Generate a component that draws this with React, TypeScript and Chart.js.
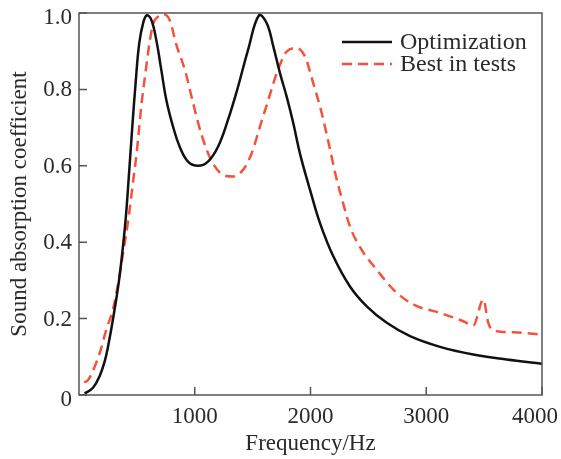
import React, { useEffect, useRef } from 'react';
import { Chart, registerables } from 'chart.js';

Chart.register(...registerables);

// Optimization curve (frequency in Hz, absorption coefficient)
const optFreq = [49, 121, 179, 222, 253, 300, 350, 400, 430, 460, 490, 520, 555, 587, 625, 668, 711, 754, 812, 870, 942, 1028, 1114, 1201, 1287, 1374, 1460, 1555, 1622, 1679, 1737, 1794, 1851, 1909, 1996, 2082, 2197, 2341, 2486, 2659, 2860, 3119, 3406, 3695, 4000];
const optAbs = [0.004, 0.019, 0.05, 0.088, 0.13, 0.21, 0.31, 0.45, 0.57, 0.7, 0.82, 0.92, 0.975, 0.994, 0.982, 0.929, 0.851, 0.773, 0.703, 0.65, 0.611, 0.6, 0.611, 0.65, 0.72, 0.807, 0.903, 0.994, 0.973, 0.912, 0.842, 0.781, 0.712, 0.632, 0.537, 0.45, 0.363, 0.284, 0.232, 0.189, 0.154, 0.126, 0.106, 0.093, 0.082];

// Best in tests curve
const testFreq = [45, 78, 179, 236, 294, 337, 383, 426, 469, 498, 541, 570, 613, 642, 690, 726, 786, 838, 916, 985, 1054, 1140, 1247, 1333, 1419, 1492, 1564, 1636, 1708, 1794, 1881, 1952, 2024, 2097, 2160, 2220, 2270, 2341, 2442, 2572, 2716, 2888, 3119, 3320, 3406, 3493, 3536, 3579, 3752, 4000];
const testAbs = [0.033, 0.039, 0.11, 0.171, 0.225, 0.29, 0.375, 0.459, 0.563, 0.633, 0.764, 0.834, 0.929, 0.973, 0.992, 0.997, 0.98, 0.92, 0.85, 0.765, 0.686, 0.616, 0.576, 0.572, 0.59, 0.633, 0.703, 0.773, 0.842, 0.899, 0.908, 0.886, 0.816, 0.738, 0.655, 0.572, 0.515, 0.441, 0.38, 0.328, 0.276, 0.237, 0.215, 0.193, 0.182, 0.25, 0.189, 0.169, 0.164, 0.158];

const seriesLabels = ['Optimization', 'Best in tests'];
const xTickValues = [1000, 2000, 3000, 4000];
const xTickLabels = ['1000', '2000', '3000', '4000'];
const yTickValues = [0, 0.2, 0.4, 0.6, 0.8, 1.0];
const yTickLabels = ['0', '0.2', '0.4', '0.6', '0.8', '1.0'];

const FONT = "'Liberation Serif', 'Times New Roman', serif";
const TEXT = '#2a2a2a';
const AXIS = '#555555';
const RED = '#f4533b';

const zeroPad = (s: any) => {
  s.paddingLeft = 0;
  s.paddingRight = 0;
  s.paddingTop = 0;
  s.paddingBottom = 0;
};

const framePlugin = {
  id: 'frameTicks',
  afterDraw(chart: any) {
    const { ctx, chartArea, width } = chart;
    const xs = chart.scales.x;
    const ys = chart.scales.y;
    ctx.save();
    ctx.strokeStyle = AXIS;
    ctx.lineWidth = 1.5;
    ctx.setLineDash([]);
    ctx.strokeRect(chartArea.left, chartArea.top, chartArea.right - chartArea.left, chartArea.bottom - chartArea.top);
    ctx.beginPath();
    yTickValues.forEach((v) => {
      const p = ys.getPixelForValue(v);
      ctx.moveTo(chartArea.left, p);
      ctx.lineTo(chartArea.left + 8, p);
    });
    xTickValues.forEach((v) => {
      const p = xs.getPixelForValue(v);
      ctx.moveTo(p, chartArea.bottom);
      ctx.lineTo(p, chartArea.bottom - 8);
    });
    ctx.stroke();

    // tick labels
    ctx.fillStyle = TEXT;
    ctx.font = `23px ${FONT}`;
    ctx.textBaseline = 'middle';
    ctx.textAlign = 'center';
    xTickValues.forEach((v, i) => {
      const w = ctx.measureText(xTickLabels[i]).width;
      let p = xs.getPixelForValue(v);
      p = Math.min(p, width - 3 - w / 2);
      ctx.fillText(xTickLabels[i], p, chartArea.bottom + 22);
    });
    ctx.textAlign = 'right';
    yTickValues.forEach((v, i) => {
      let p = ys.getPixelForValue(v);
      if (i === 0) p += 5;
      else if (i === yTickValues.length - 1) p += 5;
      else p += 1;
      ctx.fillText(yTickLabels[i], chartArea.left - 7, p);
    });

    // legend
    const lx0 = 342;
    const lx1 = 392;
    const rows = [42, 64];
    chart.data.datasets.forEach((ds: any, i: number) => {
      const y = rows[i];
      ctx.beginPath();
      ctx.strokeStyle = ds.borderColor;
      ctx.lineWidth = ds.borderWidth;
      ctx.setLineDash(ds.borderDash || []);
      ctx.moveTo(lx0, y);
      ctx.lineTo(lx1, y);
      ctx.stroke();
      ctx.setLineDash([]);
      ctx.fillStyle = TEXT;
      ctx.font = `24px ${FONT}`;
      ctx.textBaseline = 'middle';
      ctx.textAlign = 'left';
      ctx.fillText(ds.label, 400, y + 1);
    });
    ctx.restore();
  },
};

export default function App() {
  const ref = useRef<HTMLCanvasElement | null>(null);
  useEffect(() => {
    if (!ref.current) return;
    const chart = new Chart(ref.current, {
      type: 'line',
      data: {
        datasets: [
          {
            label: seriesLabels[0],
            data: optFreq.map((f, i) => ({ x: f, y: optAbs[i] })),
            borderColor: '#111111',
            borderWidth: 2.5,
            pointRadius: 0,
            tension: 0.4,
            fill: false,
          },
          {
            label: seriesLabels[1],
            data: testFreq.map((f, i) => ({ x: f, y: testAbs[i] })),
            borderColor: RED,
            borderWidth: 2.5,
            borderDash: [10, 6],
            pointRadius: 0,
            cubicInterpolationMode: 'monotone',
            fill: false,
          },
        ],
      },
      options: {
        animation: false,
        responsive: false,
        layout: { padding: { top: 13, right: 19, left: 0, bottom: 0 } },
        plugins: { legend: { display: false }, tooltip: { enabled: false } },
        scales: {
          x: {
            type: 'linear',
            min: 0,
            max: 4000,
            afterBuildTicks: (s: any) => {
              s.ticks = xTickValues.map((v) => ({ value: v }));
            },
            afterFit: (s: any) => {
              s.height = 64;
              zeroPad(s);
            },
            grid: { display: false, drawTicks: false },
            border: { display: false },
            ticks: { display: false },
            title: {
              display: true,
              text: 'Frequency/Hz',
              color: TEXT,
              font: { family: FONT, size: 23 },
              padding: { top: 0, bottom: 1 },
            },
          },
          y: {
            type: 'linear',
            min: 0,
            max: 1,
            afterBuildTicks: (s: any) => {
              s.ticks = yTickValues.map((v) => ({ value: v }));
            },
            afterFit: (s: any) => {
              s.width = 79;
              zeroPad(s);
            },
            grid: { display: false, drawTicks: false },
            border: { display: false },
            ticks: { display: false },
            title: {
              display: true,
              text: 'Sound absorption coefficient',
              color: TEXT,
              font: { family: FONT, size: 23 },
              padding: { top: 6, bottom: 0 },
            },
          },
        },
      },
      plugins: [framePlugin],
    } as any);
    return () => chart.destroy();
  }, []);
  return (
    <div style={{ position: 'fixed', left: 0, top: 0, width: 561, height: 459, background: '#fff' }}>
      <canvas ref={ref} width={561} height={459} style={{ width: 561, height: 459 }} />
    </div>
  );
}
